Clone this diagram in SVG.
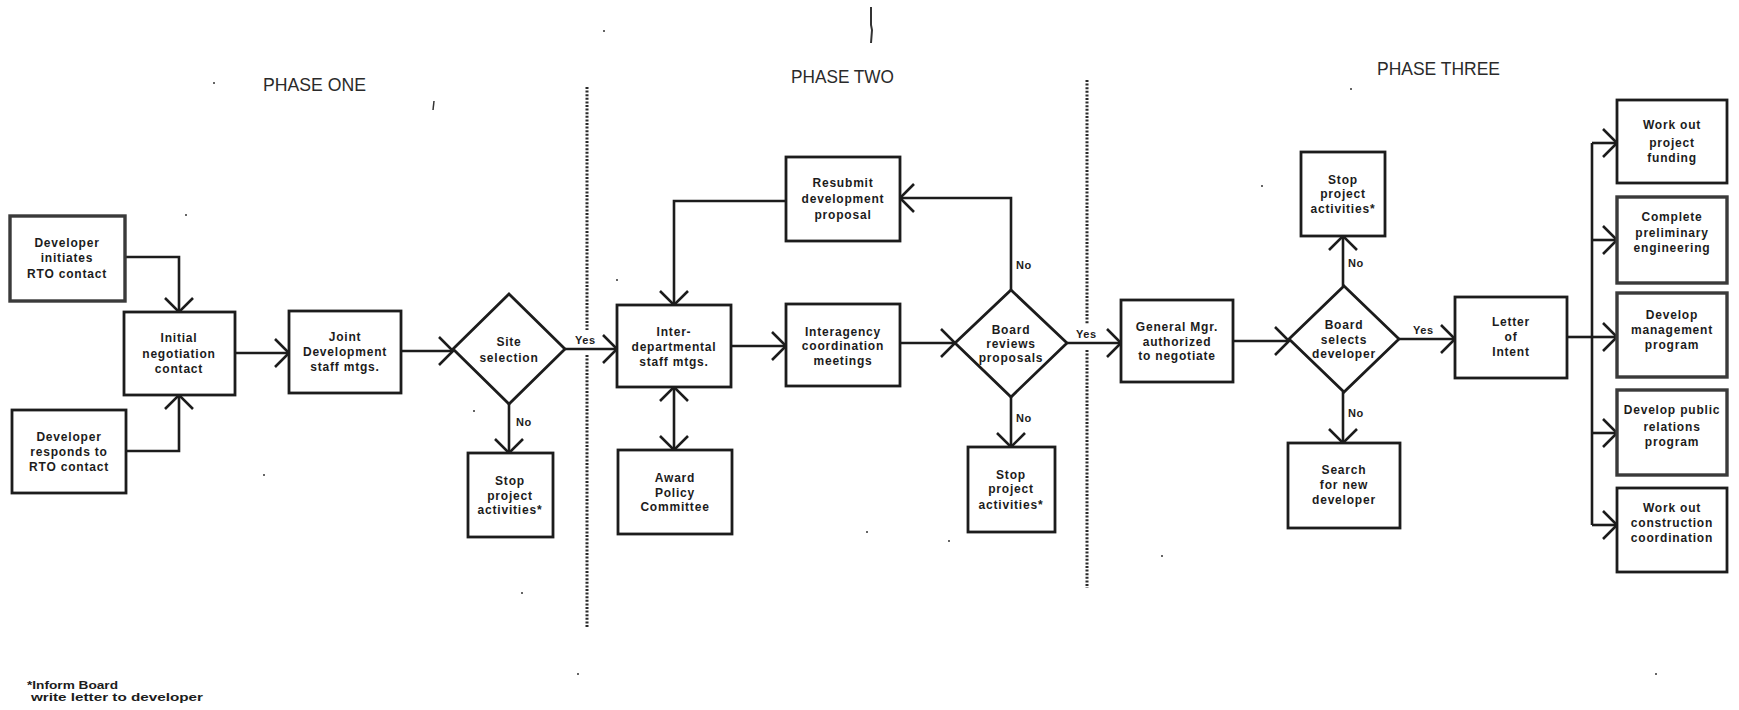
<svg xmlns="http://www.w3.org/2000/svg" width="1739" height="710" viewBox="0 0 1739 710">
<defs>
<marker id="arr" markerUnits="userSpaceOnUse" markerWidth="36" markerHeight="36" viewBox="-18 -18 36 36" refX="0" refY="0" orient="auto-start-reverse">
<path d="M-14,-14 L0,0 L-14,14" fill="none" stroke="#1c1c1c" stroke-width="2.6"/>
</marker>
<style>
.box{fill:#fff;stroke:#1c1c1c;stroke-width:2.8}
.shade{fill:#fff;stroke:#3a3a3a;stroke-width:3.4}
.t{font-family:"Liberation Sans",Arial,sans-serif;font-size:12px;font-weight:bold;fill:#1c1c1c;text-anchor:middle;letter-spacing:0.8px}
.lbl{font-family:"Liberation Sans",Arial,sans-serif;font-size:11px;font-weight:bold;fill:#1c1c1c;letter-spacing:0.6px}
.ph{font-family:"Liberation Sans",Arial,sans-serif;font-size:19px;fill:#2a2a2a}
.c{fill:none;stroke:#1c1c1c;stroke-width:2.6}
.div{fill:none;stroke:#2a2a2a;stroke-width:3;stroke-dasharray:2 1.6}
.fn{font-family:"Liberation Sans",Arial,sans-serif;font-size:10px;font-weight:bold;fill:#1c1c1c}
.dot{fill:#333}
</style>
</defs>
<rect width="1739" height="710" fill="#fff"/>

<!-- phase headings and dividers -->
<g id="headings">
<text class="ph" x="263" y="91" textLength="103" lengthAdjust="spacingAndGlyphs">PHASE ONE</text>
<text class="ph" x="791" y="83" textLength="103" lengthAdjust="spacingAndGlyphs">PHASE TWO</text>
<text class="ph" x="1377" y="75" textLength="123" lengthAdjust="spacingAndGlyphs">PHASE THREE</text>
</g>
<g id="dividers">
<line class="div" x1="587" y1="87" x2="587" y2="330"/>
<line class="div" x1="587" y1="355" x2="587" y2="627"/>
<line class="div" x1="1087" y1="80" x2="1087" y2="324"/>
<line class="div" x1="1087" y1="350" x2="1087" y2="588"/>
</g>
<g id="marks">
<path d="M871,7 L871,25 L872,30 L871,43" fill="none" stroke="#333" stroke-width="2"/>
<line x1="434" y1="101" x2="433" y2="110" stroke="#333" stroke-width="1.5"/>
<circle class="dot" cx="214" cy="83" r="1"/>
<circle class="dot" cx="604" cy="31" r="1"/>
<circle class="dot" cx="1351" cy="89" r="1"/>
<circle class="dot" cx="578" cy="674" r="1"/>
<circle class="dot" cx="1656" cy="674" r="1"/>
<circle class="dot" cx="186" cy="215" r="1"/>
<circle class="dot" cx="264" cy="475" r="1"/>
<circle class="dot" cx="474" cy="411" r="1"/>
<circle class="dot" cx="617" cy="280" r="1"/>
<circle class="dot" cx="867" cy="532" r="1"/>
<circle class="dot" cx="949" cy="541" r="1"/>
<circle class="dot" cx="1262" cy="186" r="1"/>
<circle class="dot" cx="1162" cy="556" r="1"/>
<circle class="dot" cx="522" cy="593" r="1"/>
</g>

<!-- connectors -->
<g id="connectors">
<polyline class="c" points="125,257 179,257 179,312" marker-end="url(#arr)"/>
<polyline class="c" points="126,451 179,451 179,395" marker-end="url(#arr)"/>
<line class="c" x1="235" y1="353" x2="289" y2="353" marker-end="url(#arr)"/>
<line class="c" x1="401" y1="351" x2="453" y2="351" marker-end="url(#arr)"/>
<line class="c" x1="509" y1="404" x2="509" y2="453" marker-end="url(#arr)"/>
<line class="c" x1="565" y1="349" x2="617" y2="349" marker-end="url(#arr)"/>
<line class="c" x1="731" y1="346" x2="786" y2="346" marker-end="url(#arr)"/>
<line class="c" x1="900" y1="343" x2="955" y2="343" marker-end="url(#arr)"/>
<polyline class="c" points="1011,290 1011,198 900,198" marker-end="url(#arr)"/>
<polyline class="c" points="786,201 674,201 674,305" marker-end="url(#arr)"/>
<line class="c" x1="674" y1="387" x2="674" y2="450" marker-start="url(#arr)" marker-end="url(#arr)"/>
<line class="c" x1="1011" y1="397" x2="1011" y2="447" marker-end="url(#arr)"/>
<line class="c" x1="1067" y1="343" x2="1121" y2="343" marker-end="url(#arr)"/>
<line class="c" x1="1233" y1="341" x2="1289" y2="341" marker-end="url(#arr)"/>
<line class="c" x1="1343" y1="286" x2="1343" y2="236" marker-end="url(#arr)"/>
<line class="c" x1="1343" y1="392" x2="1343" y2="443" marker-end="url(#arr)"/>
<line class="c" x1="1399" y1="339" x2="1455" y2="339" marker-end="url(#arr)"/>
<line class="c" x1="1567" y1="337" x2="1592" y2="337"/>
<line class="c" x1="1592" y1="143" x2="1592" y2="525"/>
<line class="c" x1="1592" y1="143" x2="1617" y2="143" marker-end="url(#arr)"/>
<line class="c" x1="1592" y1="240" x2="1617" y2="240" marker-end="url(#arr)"/>
<line class="c" x1="1592" y1="337" x2="1617" y2="337" marker-end="url(#arr)"/>
<line class="c" x1="1592" y1="433" x2="1617" y2="433" marker-end="url(#arr)"/>
<line class="c" x1="1592" y1="525" x2="1617" y2="525" marker-end="url(#arr)"/>
<text class="lbl" x="516" y="426">No</text>
<text class="lbl" x="575" y="344">Yes</text>
<text class="lbl" x="1016" y="269">No</text>
<text class="lbl" x="1016" y="422">No</text>
<text class="lbl" x="1076" y="338">Yes</text>
<text class="lbl" x="1348" y="267">No</text>
<text class="lbl" x="1348" y="417">No</text>
<text class="lbl" x="1413" y="334">Yes</text>
</g>

<!-- nodes -->
<g id="dev-initiates">
<rect class="shade" x="10" y="216" width="115" height="85"/>
<text class="t" x="67" y="247">Developer</text>
<text class="t" x="67" y="262">initiates</text>
<text class="t" x="67" y="278">RTO contact</text>
</g>
<g id="initial-negotiation">
<rect class="box" x="124" y="312" width="111" height="83"/>
<text class="t" x="179" y="342">Initial</text>
<text class="t" x="179" y="358">negotiation</text>
<text class="t" x="179" y="373">contact</text>
</g>
<g id="dev-responds">
<rect class="box" x="12" y="410" width="114" height="83"/>
<text class="t" x="69" y="441">Developer</text>
<text class="t" x="69" y="456">responds to</text>
<text class="t" x="69" y="471">RTO contact</text>
</g>
<g id="joint-development">
<rect class="box" x="289" y="311" width="112" height="82"/>
<text class="t" x="345" y="341">Joint</text>
<text class="t" x="345" y="356">Development</text>
<text class="t" x="345" y="371">staff mtgs.</text>
</g>
<g id="site-selection">
<polygon class="box" points="509,294 565,349 509,404 453,349"/>
<text class="t" x="509" y="346">Site</text>
<text class="t" x="509" y="362">selection</text>
</g>
<g id="stop-1">
<rect class="box" x="468" y="453" width="85" height="84"/>
<text class="t" x="510" y="485">Stop</text>
<text class="t" x="510" y="500">project</text>
<text class="t" x="510" y="514">activities*</text>
</g>
<g id="interdepartmental">
<rect class="box" x="617" y="305" width="114" height="82"/>
<text class="t" x="674" y="336">Inter-</text>
<text class="t" x="674" y="351">departmental</text>
<text class="t" x="674" y="366">staff mtgs.</text>
</g>
<g id="award-policy">
<rect class="box" x="618" y="450" width="114" height="84"/>
<text class="t" x="675" y="482">Award</text>
<text class="t" x="675" y="497">Policy</text>
<text class="t" x="675" y="511">Committee</text>
</g>
<g id="resubmit">
<rect class="box" x="786" y="157" width="114" height="84"/>
<text class="t" x="843" y="187">Resubmit</text>
<text class="t" x="843" y="203">development</text>
<text class="t" x="843" y="219">proposal</text>
</g>
<g id="interagency">
<rect class="box" x="786" y="304" width="114" height="82"/>
<text class="t" x="843" y="336">Interagency</text>
<text class="t" x="843" y="350">coordination</text>
<text class="t" x="843" y="365">meetings</text>
</g>
<g id="board-reviews">
<polygon class="box" points="1011,290 1067,343 1011,397 955,343"/>
<text class="t" x="1011" y="334">Board</text>
<text class="t" x="1011" y="348">reviews</text>
<text class="t" x="1011" y="362">proposals</text>
</g>
<g id="stop-2">
<rect class="box" x="968" y="447" width="87" height="85"/>
<text class="t" x="1011" y="479">Stop</text>
<text class="t" x="1011" y="493">project</text>
<text class="t" x="1011" y="509">activities*</text>
</g>
<g id="general-manager">
<rect class="box" x="1121" y="300" width="112" height="82"/>
<text class="t" x="1177" y="331">General Mgr.</text>
<text class="t" x="1177" y="346">authorized</text>
<text class="t" x="1177" y="360">to negotiate</text>
</g>
<g id="board-selects">
<polygon class="box" points="1344,286 1399,339 1344,392 1289,339"/>
<text class="t" x="1344" y="329">Board</text>
<text class="t" x="1344" y="344">selects</text>
<text class="t" x="1344" y="358">developer</text>
</g>
<g id="stop-3">
<rect class="box" x="1301" y="152" width="84" height="84"/>
<text class="t" x="1343" y="184">Stop</text>
<text class="t" x="1343" y="198">project</text>
<text class="t" x="1343" y="213">activities*</text>
</g>
<g id="search">
<rect class="box" x="1288" y="443" width="112" height="85"/>
<text class="t" x="1344" y="474">Search</text>
<text class="t" x="1344" y="489">for new</text>
<text class="t" x="1344" y="504">developer</text>
</g>
<g id="letter-of-intent">
<rect class="box" x="1455" y="297" width="112" height="81"/>
<text class="t" x="1511" y="326">Letter</text>
<text class="t" x="1511" y="341">of</text>
<text class="t" x="1511" y="356">Intent</text>
</g>
<g id="project-funding">
<rect class="box" x="1617" y="100" width="110" height="83"/>
<text class="t" x="1672" y="129">Work out</text>
<text class="t" x="1672" y="147">project</text>
<text class="t" x="1672" y="162">funding</text>
</g>
<g id="preliminary-engineering">
<rect class="shade" x="1617" y="197" width="110" height="86"/>
<text class="t" x="1672" y="221">Complete</text>
<text class="t" x="1672" y="237">preliminary</text>
<text class="t" x="1672" y="252">engineering</text>
</g>
<g id="management-program">
<rect class="shade" x="1617" y="293" width="110" height="84"/>
<text class="t" x="1672" y="319">Develop</text>
<text class="t" x="1672" y="334">management</text>
<text class="t" x="1672" y="349">program</text>
</g>
<g id="public-relations">
<rect class="shade" x="1617" y="390" width="110" height="85"/>
<text class="t" x="1672" y="414" letter-spacing="0.2">Develop public</text>
<text class="t" x="1672" y="431">relations</text>
<text class="t" x="1672" y="446">program</text>
</g>
<g id="construction-coordination">
<rect class="box" x="1617" y="488" width="110" height="84"/>
<text class="t" x="1672" y="512">Work out</text>
<text class="t" x="1672" y="527">construction</text>
<text class="t" x="1672" y="542">coordination</text>
</g>

<g id="footnote">
<text class="fn" x="27" y="689" textLength="91" lengthAdjust="spacingAndGlyphs">*Inform Board</text>
<text class="fn" x="31" y="701" textLength="172" lengthAdjust="spacingAndGlyphs">write letter to developer</text>
</g>
</svg>
